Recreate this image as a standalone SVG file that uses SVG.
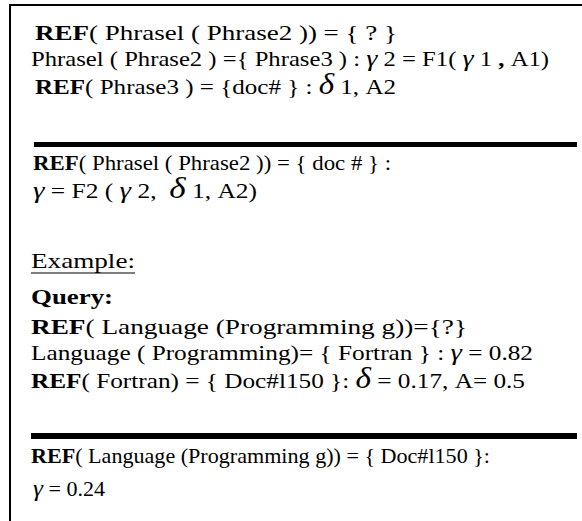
<svg xmlns="http://www.w3.org/2000/svg" width="582" height="521" viewBox="0 0 582 521">
  <style>
    text { font-family: "Liberation Serif", "Times New Roman", serif; fill: #000; font-size: 22px; }
    .sm { font-size: 21px; }
    .b { font-weight: bold; }
    .g { font-style: italic; font-size: 24px; }
    .d { font-style: italic; font-size: 29px; }
    .rule { stroke: #000; stroke-width: 5; }
    .frame { stroke: #000; stroke-width: 2; fill: none; }
  </style>
  <rect width="582" height="521" fill="#fff"/>
  <!-- open frame: left and top edges only -->
  <path class="frame" d="M10,521 V5 H582"/>

  <!-- general rule -->
  <g id="rule-general">
    <text x="35" y="40" textLength="362" lengthAdjust="spacingAndGlyphs"><tspan class="b">REF</tspan>( Phrasel ( Phrase2 )) = { ? }</text>
    <text class="sm" x="31" y="66" textLength="518" lengthAdjust="spacingAndGlyphs">Phrasel ( Phrase2 ) ={ Phrase3 ) : <tspan class="g">γ</tspan> 2 = F1( <tspan class="g">γ</tspan> 1 <tspan class="b">,</tspan> A1)</text>
    <text x="35" y="94" textLength="361" lengthAdjust="spacingAndGlyphs"><tspan class="b">REF</tspan>( Phrase3 ) = {doc# } : <tspan class="d">δ</tspan> 1, A2</text>
  </g>

  <line class="rule" x1="34" y1="144.5" x2="577" y2="144.5"/>

  <g id="rule-result">
    <text class="sm" x="33" y="170" textLength="358" lengthAdjust="spacingAndGlyphs"><tspan class="b">REF</tspan>( Phrasel ( Phrase2 )) = { doc # } :</text>
    <text class="sm" x="33" y="198" textLength="224" lengthAdjust="spacingAndGlyphs"><tspan class="g">γ</tspan> = F2 ( <tspan class="g">γ</tspan> 2,&#160; <tspan class="d">δ</tspan> 1, A2)</text>
  </g>

  <!-- worked example -->
  <g id="example">
    <text x="31" y="268" textLength="104" lengthAdjust="spacingAndGlyphs">Example:</text>
    <line x1="31" y1="273" x2="135" y2="273" stroke="#000" stroke-width="1.2"/>
    <text class="b" x="31" y="304" textLength="82" lengthAdjust="spacingAndGlyphs">Query:</text>
    <text x="31" y="334" textLength="436" lengthAdjust="spacingAndGlyphs"><tspan class="b">REF</tspan>( Language (Programming g))={?}</text>
    <text class="sm" x="31" y="360" textLength="502" lengthAdjust="spacingAndGlyphs">Language ( Programming)= { Fortran } : <tspan class="g">γ</tspan> = 0.82</text>
    <text x="31" y="388" textLength="494" lengthAdjust="spacingAndGlyphs"><tspan class="b">REF</tspan>( Fortran) = { Doc#l150 }: <tspan class="d">δ</tspan> = 0.17, A= 0.5</text>
  </g>

  <line class="rule" x1="31" y1="436" x2="577" y2="436" style="stroke-width:6"/>

  <g id="example-result">
    <text class="sm" x="31" y="463" textLength="459" lengthAdjust="spacingAndGlyphs"><tspan class="b">REF</tspan>( Language (Programming g)) = { Doc#l150 }:</text>
    <text class="sm" x="33" y="496" textLength="72" lengthAdjust="spacingAndGlyphs"><tspan class="g">γ</tspan> = 0.24</text>
  </g>
</svg>
